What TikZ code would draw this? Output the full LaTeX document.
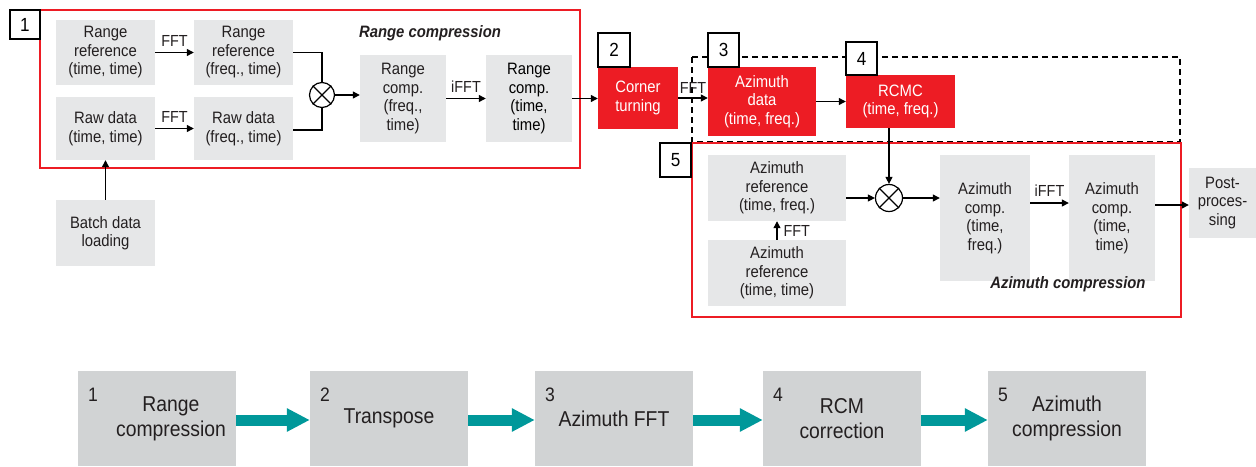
\documentclass[tikz,border=0pt]{standalone}
\usepackage{fontspec}
\setmainfont[FakeStretch=0.9]{Liberation Sans}
\usetikzlibrary{arrows.meta}
\definecolor{boxgray}{HTML}{E6E7E8}
\definecolor{dkgray}{HTML}{D1D3D4}
\definecolor{sarred}{HTML}{ED1C24}
\definecolor{teal2}{HTML}{00989A}
\definecolor{txt}{HTML}{231F20}
\begin{document}
\begin{tikzpicture}[x=1pt,y=-1pt,
  gbox/.style={fill=boxgray,inner sep=0pt,align=center,text=txt,font=\fontsize{16.5}{18.5}\selectfont},
  rbox/.style={fill=sarred,inner sep=0pt,align=center,text=white,font=\fontsize{16.5}{18.5}\selectfont},
  lbl/.style={draw=black,fill=white,line width=1.2pt,inner sep=0pt,font=\fontsize{19}{20}\selectfont},
  arr/.style={line width=1.2pt,-{Triangle[length=7pt,width=7pt]}},
  ln/.style={line width=1.2pt},
  mult/.style={circle,draw=black,line width=1.2pt,fill=white,inner sep=0pt},
  flab/.style={font=\fontsize{16}{17}\selectfont,inner sep=0pt,text=txt},
  ttl/.style={font=\fontsize{16.5}{18}\selectfont\bfseries\itshape,inner sep=0pt,text=txt},
  bbox/.style={fill=dkgray,inner sep=0pt,align=center,minimum width=158pt,minimum height=95pt,text=txt,font=\fontsize{21.5}{25}\selectfont},
  bnum/.style={inner sep=0pt,text=txt,font=\fontsize{19.5}{20}\selectfont},
  tarr/.style={teal2,line width=11pt,-{Triangle[width=22pt,length=23pt]}}
]
\useasboundingbox (0,0) rectangle (1256,466);
% frames
\draw[sarred,line width=2pt] (40,10) rectangle (580,168);
\draw[black,dashed,line width=1.2pt,dash pattern=on 6pt off 4pt] (692,57) rectangle (1180,142);
\draw[sarred,line width=1.6pt] (692,143) rectangle (1181,317);
% section 1
\node[gbox,minimum width=99pt,minimum height=65pt] (rr1) at (105.5,52.5) {Range\\reference\\(time, time)};
\node[gbox,minimum width=99pt,minimum height=65pt] (rr2) at (243.5,52.5) {Range\\reference\\(freq., time)};
\node[gbox,minimum width=99pt,minimum height=63pt] (rd1) at (105.5,128.5) {Raw data\\(time, time)};
\node[gbox,minimum width=99pt,minimum height=63pt] (rd2) at (243.5,128.5) {Raw data\\(freq., time)};
\node[mult,minimum size=25pt] (m1) at (322,95) {};
\draw[ln] (m1.north east) -- (m1.south west) (m1.north west) -- (m1.south east);
\node[gbox,minimum width=86pt,minimum height=87pt] (rc1) at (403,98.5) {Range\\comp.\\(freq.,\\time)};
\node[gbox,minimum width=86pt,minimum height=87pt,text=black] (rc2) at (529,98.5) {Range\\comp.\\(time,\\time)};
\node[gbox,minimum width=99pt,minimum height=66pt] (batch) at (105.5,233) {Batch data\\loading};
\node[ttl] (t1) at (430,33) {Range compression};
\node[lbl,minimum width=30pt,minimum height=29pt] (l1) at (25,24.5) {1};
\draw[arr] (rr1.east) -- (rr2.west) node[flab,midway,above=5pt] (f1) {FFT};
\draw[arr] (rd1.east) -- (rd2.west) node[flab,midway,above=5pt] (f2) {FFT};
\draw[ln] (rr2.east) -| (m1.north);
\draw[ln] (rd2.east |- 0,130) -| (m1.south);
\draw[arr] (m1.east) -- (m1.east -| rc1.west);
\draw[arr] (rc1.east) -- (rc2.west) node[flab,midway,above=5pt] (f3) {iFFT};
\draw[arr] (batch.north) -- (rd1.south);
% sections 2-4
\node[rbox,minimum width=80pt,minimum height=62pt] (corner) at (638,98) {Corner\\turning};
\node[rbox,minimum width=108pt,minimum height=69pt] (azd) at (762,101.5) {Azimuth\\data\\(time, freq.)};
\node[rbox,minimum width=109pt,minimum height=53pt] (rcmc) at (900.5,101.5) {RCMC\\(time, freq.)};
\node[lbl,minimum width=32pt,minimum height=34pt] (l2) at (614,50) {2};
\node[lbl,minimum width=31pt,minimum height=34pt] (l3) at (723.5,50) {3};
\node[lbl,minimum width=31pt,minimum height=33pt] (l4) at (861.5,58.5) {4};
\draw[arr] (rc2.east) -- (rc2.east -| corner.west);
\draw[arr] (corner.east) -- (corner.east -| azd.west) node[flab,midway,above=4pt] (f4) {FFT};
\draw[arr] (azd.east |- rcmc.west) -- (rcmc.west);
% section 5
\node[lbl,minimum width=31pt,minimum height=34pt] (l5) at (675.5,160) {5};
\node[gbox,minimum width=138pt,minimum height=66pt] (azr1) at (777,188) {Azimuth\\reference\\(time, freq.)};
\node[gbox,minimum width=138pt,minimum height=66pt] (azr2) at (777,273) {Azimuth\\reference\\(time, time)};
\node[mult,minimum size=27pt] (m2) at (889,198) {};
\draw[ln] (m2.north east) -- (m2.south west) (m2.north west) -- (m2.south east);
\node[gbox,minimum width=90pt,minimum height=126pt] (azc1) at (985,218) {Azimuth\\comp.\\(time,\\freq.)};
\node[gbox,minimum width=86pt,minimum height=126pt] (azc2) at (1112,218) {Azimuth\\comp.\\(time,\\time)};
\node[gbox,minimum width=67pt,minimum height=70pt] (post) at (1222.5,203) {Post-\\proces-\\sing};
\node[ttl] (t2) at (1068,284) {Azimuth compression};
\draw[arr] (azr2.north) -- (azr1.south) node[flab,midway,right=6pt] (f5) {FFT};
\draw[arr] (m2.north |- rcmc.south) -- (m2.north);
\draw[arr] (azr1.east |- m2.west) -- (m2.west);
\draw[arr] (m2.east) -- (m2.east -| azc1.west);
\draw[arr] (azc1.east |- 0,203) -- (azc2.west |- 0,203) node[flab,midway,above=6pt] (f6) {iFFT};
\draw[arr] (azc2.east |- 0,205) -- (post.west |- 0,205);
% bottom row
\node[bbox] (b1) at (157,418.5) {\hspace*{28pt}Range\\\hspace*{28pt}compression};
\node[bbox] (b2) at (389,418.5) {Transpose};
\node[bbox] (b3) at (614,418.5) {Azimuth FFT};
\node[bbox] (b4) at (842,418.5) {RCM\\correction};
\node[bbox] (b5) at (1067,418.5) {Azimuth\\compression};
\foreach \i in {1,...,5} {\node[bnum,anchor=west] (n\i) at ([xshift=10pt]b\i.west |- 0,395) {\i};}
\draw[tarr] (b1.east |- 0,420) -- (b2.west |- 0,420);
\draw[tarr] (b2.east |- 0,420) -- (b3.west |- 0,420);
\draw[tarr] (b3.east |- 0,420) -- (b4.west |- 0,420);
\draw[tarr] (b4.east |- 0,420) -- (b5.west |- 0,420);
\end{tikzpicture}
\end{document}
